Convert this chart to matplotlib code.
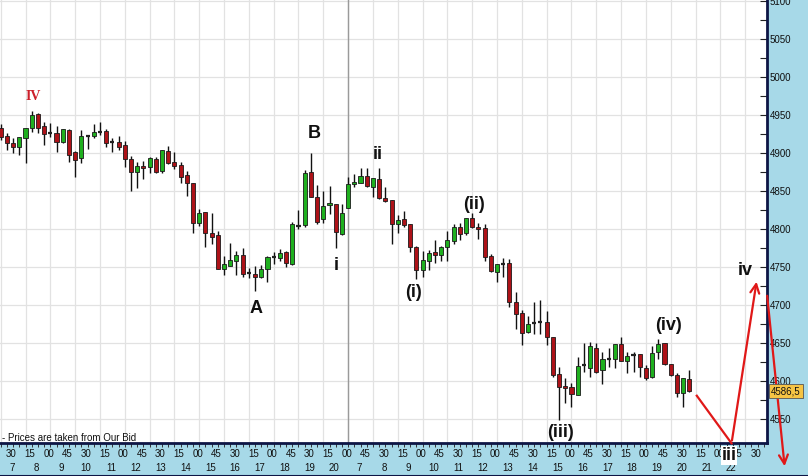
import matplotlib
matplotlib.use("Agg")
import matplotlib.pyplot as plt
from matplotlib.transforms import blended_transform_factory

# ---- candle data (15-minute bars) ----
opens = [4932.9, 4922.4, 4913.1, 4907.9, 4919.7, 4932.9, 4951.3, 4935.5, 4926.3, 4926.3,
         4914.4, 4930.2, 4901.3, 4893.4, 4922.4, 4922.4, 4927.6, 4928.9, 4914.4, 4914.4,
         4910.5, 4892.1, 4875.0, 4882.9, 4881.5, 4892.1, 4876.3, 4902.6, 4888.1, 4884.2,
         4871.0, 4860.5, 4807.9, 4822.4, 4794.7, 4792.1, 4747.4, 4751.3, 4757.9, 4765.8,
         4742.0, 4740.8, 4736.8, 4747.4, 4763.2, 4761.8, 4769.7, 4753.9, 4803.9, 4805.3,
         4875.0, 4842.1, 4813.2, 4831.6, 4832.9, 4793.4, 4827.6, 4859.2, 4860.5, 4869.7,
         4855.3, 4865.8, 4840.8, 4838.1, 4806.6, 4813.2, 4806.6, 4776.3, 4746.0, 4757.9,
         4769.7, 4765.8, 4776.3, 4784.2, 4802.6, 4794.7, 4814.5, 4802.6, 4801.3, 4764.5,
         4743.4, 4753.9, 4755.3, 4703.9, 4689.5, 4664.5, 4676.3, 4677.6, 4677.6, 4657.9,
         4609.2, 4593.4, 4592.1, 4581.6, 4621.0, 4617.1, 4643.4, 4614.5, 4628.9, 4628.9,
         4648.7, 4626.3, 4634.2, 4635.5, 4617.1, 4605.3, 4638.2, 4650.0, 4622.4, 4607.9,
         4584.2, 4602.6]
highs = [4938.0, 4926.3, 4919.7, 4921.5, 4933.0, 4955.3, 4952.0, 4940.8, 4939.5, 4935.5,
         4932.0, 4931.0, 4902.0, 4930.2, 4923.5, 4938.1, 4940.8, 4931.6, 4919.7, 4922.4,
         4915.8, 4896.0, 4888.1, 4889.4, 4894.7, 4894.7, 4904.5, 4909.2, 4901.3, 4888.1,
         4876.3, 4861.0, 4826.3, 4823.0, 4821.1, 4797.4, 4764.5, 4781.6, 4771.0, 4775.0,
         4748.7, 4751.3, 4752.6, 4764.0, 4769.7, 4773.7, 4770.5, 4809.2, 4825.0, 4877.6,
         4900.0, 4857.9, 4850.0, 4856.6, 4833.5, 4832.9, 4868.4, 4872.3, 4880.2, 4880.2,
         4867.5, 4880.2, 4855.3, 4838.5, 4818.4, 4823.7, 4807.0, 4777.0, 4771.0, 4772.4,
         4785.5, 4777.6, 4797.4, 4806.6, 4807.9, 4815.0, 4821.1, 4807.9, 4806.6, 4767.1,
         4754.5, 4761.8, 4760.5, 4717.1, 4693.4, 4685.5, 4703.9, 4706.6, 4692.1, 4658.5,
         4618.4, 4603.9, 4597.4, 4631.6, 4650.0, 4651.3, 4650.0, 4638.2, 4643.4, 4649.0,
         4657.9, 4638.2, 4638.2, 4636.0, 4621.0, 4646.1, 4655.3, 4650.5, 4623.0, 4610.5,
         4604.5, 4614.5]
lows = [4917.0, 4903.9, 4900.0, 4897.4, 4886.8, 4927.6, 4926.3, 4910.5, 4921.1, 4901.3,
        4913.1, 4888.1, 4868.4, 4886.8, 4905.2, 4919.7, 4923.7, 4907.9, 4901.3, 4903.9,
        4881.5, 4850.0, 4853.9, 4865.8, 4873.7, 4874.0, 4873.7, 4885.5, 4878.9, 4860.5,
        4843.4, 4794.7, 4803.9, 4776.3, 4780.3, 4747.0, 4739.5, 4751.0, 4739.5, 4736.8,
        4735.5, 4718.4, 4736.0, 4730.0, 4753.9, 4757.9, 4750.0, 4753.0, 4800.0, 4802.6,
        4841.5, 4806.6, 4807.9, 4819.7, 4775.0, 4792.1, 4827.0, 4855.3, 4860.0, 4855.3,
        4842.1, 4840.0, 4835.5, 4780.3, 4794.7, 4802.6, 4769.7, 4734.2, 4736.8, 4746.0,
        4755.3, 4757.9, 4757.9, 4780.3, 4785.5, 4792.1, 4801.3, 4786.8, 4757.9, 4743.4,
        4730.3, 4736.8, 4697.4, 4668.4, 4647.4, 4663.2, 4661.8, 4661.8, 4647.4, 4605.3,
        4548.7, 4571.0, 4565.8, 4581.0, 4611.8, 4605.3, 4610.5, 4596.1, 4618.4, 4617.1,
        4626.0, 4610.5, 4611.8, 4605.3, 4601.3, 4604.0, 4629.0, 4621.0, 4606.6, 4579.0,
        4565.8, 4586.0]
closes = [4921.1, 4913.1, 4907.9, 4921.1, 4932.9, 4950.0, 4932.9, 4925.0, 4925.5, 4914.4,
          4931.6, 4897.4, 4890.8, 4922.4, 4923.0, 4927.6, 4928.0, 4913.1, 4914.0, 4907.9,
          4892.1, 4875.0, 4882.9, 4880.2, 4893.4, 4875.0, 4903.9, 4886.8, 4882.9, 4868.4,
          4860.5, 4807.9, 4821.1, 4794.7, 4789.5, 4747.4, 4753.9, 4759.2, 4765.8, 4740.8,
          4741.5, 4736.8, 4747.4, 4763.2, 4763.5, 4768.4, 4755.3, 4806.6, 4804.5, 4873.7,
          4842.1, 4809.2, 4830.2, 4834.2, 4796.1, 4821.1, 4859.2, 4861.8, 4869.7, 4856.6,
          4867.1, 4840.8, 4836.8, 4806.6, 4811.8, 4805.3, 4776.3, 4746.0, 4759.2, 4768.4,
          4765.8, 4776.3, 4785.5, 4802.6, 4793.4, 4814.5, 4802.6, 4800.0, 4763.2, 4744.7,
          4753.9, 4754.2, 4703.9, 4688.2, 4663.2, 4675.0, 4676.6, 4678.0, 4657.9, 4607.9,
          4592.1, 4590.8, 4582.9, 4619.7, 4621.3, 4646.1, 4611.8, 4628.9, 4629.2, 4648.7,
          4626.3, 4632.9, 4634.5, 4618.4, 4604.0, 4636.8, 4648.7, 4622.4, 4607.9, 4584.2,
          4604.0, 4586.5]

last_price_label = "4586,5"
last_price = 4586.5

y_ticks = [4550, 4600, 4650, 4700, 4750, 4800, 4850, 4900, 4950, 5000, 5050, 5100]
minute_labels = ["30", "15", "00", "45"] * 10 + ["30"]
hour_labels = ["7", "8", "9", "10", "11", "12", "13", "14", "15", "16", "17", "18", "19", "20",
               "7", "8", "9", "10", "11", "12", "13", "14", "15", "16", "17", "18", "19", "20",
               "21", "22"]

# Elliott-wave projection (bar index, price)
wave_x = [112.2, 117.8, 121.9]
wave_y = [4580.6, 4518.0, 4734.2]
drop_x = [123.5, 126.4]
drop_y = [4715.8, 4484.2]

wave_labels = ["B", "A", "i", "ii", "(i)", "(ii)", "(iii)", "(iv)", "iv"]
wave_label_x = [50.5, 41.2, 54.05, 60.7, 66.6, 76.3, 90.3, 107.6, 120.0]
wave_label_y = [4925.0, 4695.3, 4751.3, 4897.4, 4715.8, 4831.6, 4531.6, 4672.4, 4746.0]

# ---- figure ----
W, H = 808, 476
fig = plt.figure(figsize=(W / 100, H / 100), dpi=100)
fig.patch.set_facecolor("#a7d9e8")

ax_left_px, ax_right_px, ax_bottom_px = 0, 767, 443
ax = fig.add_axes([ax_left_px / W, (H - ax_bottom_px) / H,
                   (ax_right_px - ax_left_px) / W, ax_bottom_px / H])
ax.set_facecolor("white")

px_per_bar = 6.204
x0_off = 0.7
ax.set_xlim((0 - x0_off) / px_per_bar, (ax_right_px - x0_off) / px_per_bar)
ax.set_ylim(4518.4, 5101.3)

n = len(opens)
xs = list(range(n))

# grid
for gx in range(0, 124, 4):
    ax.axvline(gx, color="#e2e2e2", lw=0.9, zorder=0)
for gy in y_ticks:
    ax.axhline(gy, color="#e2e2e2", lw=0.9, zorder=0)
ax.axvline(56, color="#9a9a9a", lw=1.0, zorder=0.5)

# candles
body_w = 0.66
for i in xs:
    o, h, l, c = opens[i], highs[i], lows[i], closes[i]
    ax.vlines(i, l, h, color="#111111", lw=1.0, zorder=2)
    diff = c - o
    if abs(diff) < 1.5:
        ax.hlines((o + c) / 2, i - body_w / 2, i + body_w / 2, color="#222222", lw=1.6, zorder=3)
        continue
    col = "#1fb01f" if diff > 0 else "#ad1218"
    ax.bar(i, abs(diff), bottom=min(o, c), width=body_w, color=col,
           edgecolor="#1a1a1a", linewidth=0.6, zorder=3)

# spines
for s in ["top", "left"]:
    ax.spines[s].set_visible(False)
ax.spines["right"].set_color("#0d1545")
ax.spines["right"].set_linewidth(2)
ax.spines["bottom"].set_color("#0d1545")
ax.spines["bottom"].set_linewidth(2)

# y axis on right
ax.yaxis.tick_right()
ax.set_yticks(y_ticks)
ax.set_yticklabels([str(v) for v in y_ticks], fontsize=7, family="Liberation Sans")
ax.set_yticks([v + 25 for v in y_ticks[:-1]], minor=True)
ax.tick_params(axis="y", which="both", direction="in", length=5, width=0.8,
               color="#222222", pad=2, labelcolor="#111111")

# x axis: ticks every bar, labels manually
ax.set_xticks(range(0, 124))
ax.set_xticklabels([])
ax.tick_params(axis="x", which="major", direction="out", length=3, width=0.7, color="#333333")

trans = blended_transform_factory(ax.transData, fig.transFigure)
for k, lab in enumerate(minute_labels):
    ax.text(1.75 + 3 * k, 1 - 454 / H, lab, transform=trans, ha="center", va="center",
            fontsize=7, family="Liberation Sans", color="#111111", clip_on=False)
for j, lab in enumerate(hour_labels):
    ax.text(1.77 + 4 * j, 1 - 468 / H, lab, transform=trans, ha="center", va="center",
            fontsize=7, family="Liberation Sans", color="#111111", clip_on=False)

# footer note
ax.text(0.002, 1 - 438 / H, "- Prices are taken from Our Bid",
        transform=blended_transform_factory(ax.transAxes, fig.transFigure),
        ha="left", va="center", fontsize=7, family="Liberation Sans", color="#111111")

# wave annotations
ax.text(5.2, 4973.7, "IV", ha="center", va="center", fontsize=10, fontweight="bold",
        family="Liberation Serif", color="#cc1f2a", zorder=5)
for lab, lx, ly in zip(wave_labels, wave_label_x, wave_label_y):
    ax.text(lx, ly, lab, ha="center", va="center", fontsize=13, fontweight="bold",
            family="Liberation Sans", color="#111111", zorder=5, clip_on=False)

ax.plot(wave_x[:2], wave_y[:2], color="#e01818", lw=1.6, clip_on=False, zorder=6)
ax.annotate("", xy=(wave_x[2], wave_y[2]), xytext=(wave_x[1], wave_y[1]),
            arrowprops=dict(arrowstyle="->", color="#e01818", lw=1.6, mutation_scale=16),
            annotation_clip=False, zorder=6)
ax.annotate("", xy=(drop_x[1], drop_y[1]), xytext=(drop_x[0], drop_y[0]),
            arrowprops=dict(arrowstyle="->", color="#e01818", lw=1.6, mutation_scale=16),
            annotation_clip=False, zorder=6)

# 'iii' label with white box over axis band
ax.text(117.4, 4502.0, "iii", ha="center", va="center", fontsize=13, fontweight="bold",
        family="Liberation Sans", color="#111111", clip_on=False, zorder=7,
        bbox=dict(boxstyle="square,pad=0.05", facecolor="white", edgecolor="none"))

# last price tag
fig.text(786 / W, 1 - 391 / H, last_price_label, ha="center", va="center", fontsize=7,
         family="Liberation Sans", color="#111111",
         bbox=dict(boxstyle="square,pad=0.25", facecolor="#f6c444", edgecolor="#555555", linewidth=0.6))

# bottom frame line
fig.add_artist(plt.Line2D([0, 1], [0.5 / H, 0.5 / H], transform=fig.transFigure, color="#0d1545", lw=1.5))

fig.savefig("out.png", dpi=100, facecolor=fig.get_facecolor())
